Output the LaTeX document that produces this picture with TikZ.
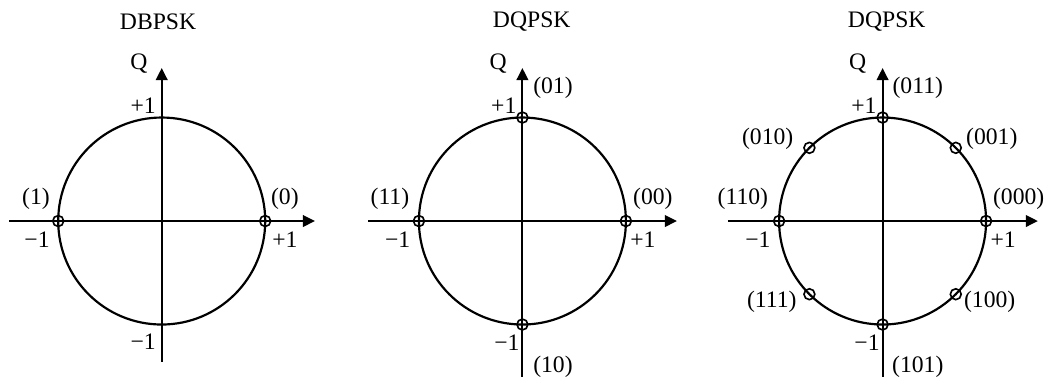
\documentclass[tikz,border=0pt]{standalone}
\usepackage{fontspec}
\setmainfont{Liberation Serif}
\usetikzlibrary{arrows.meta}

\begin{document}
\begin{tikzpicture}[font=\fontsize{13}{15}\selectfont,
    axis/.style={line width=1.05pt, -{Triangle[length=6.6pt,width=6.4pt]}},
    ring/.style={line width=1.2pt},
    pt/.style={circle, draw, line width=0.9pt, inner sep=0pt, minimum size=0.21cm}]
  \useasboundingbox (-3.125,-3.072) rectangle (17.107,4.271);

  % DBPSK
  \begin{scope}
    \node (at) at (-0.07,3.845) {DBPSK};
    \coordinate (aw) at (-2.95,0);
    \coordinate (ae) at (2.96,0);
    \coordinate (as) at (0,-2.72);
    \coordinate (an) at (0,2.956);
    \draw[ring] (0,0) circle (2);
    \draw[axis] (aw) -- (ae);
    \draw[axis] (as) -- (an);
    \node[pt] (a0) at (2,0) {};
    \node[pt] (a1) at (-2,0) {};
    \node (aq) at (-0.44,3.05) {Q};
    \node (atop) at (-0.36,2.22) {+1};
    \node (abot) at (-0.36,-2.34) {−1};
    \node (aleft) at (-2.41,-0.37) {−1};
    \node (aright) at (2.38,-0.37) {+1};
    \node (al1) at (-2.43,0.425) {(1)};
    \node (al0) at (2.38,0.425) {(0)};
  \end{scope}

  % DQPSK, 4 points
  \begin{scope}[shift={(6.97,0)}]
    \node (bt) at (0.18,3.845) {DQPSK};
    \coordinate (bw) at (-2.98,0);
    \coordinate (be) at (2.985,0);
    \coordinate (bs) at (0,-3.01);
    \coordinate (bn) at (0,2.956);
    \draw[ring] (0,0) circle (2);
    \draw[axis] (bw) -- (be);
    \draw[axis] (bs) -- (bn);
    \node[pt] (b00) at (2,0) {};
    \node[pt] (b01) at (0,2) {};
    \node[pt] (b11) at (-2,0) {};
    \node[pt] (b10) at (0,-2) {};
    \node (bq) at (-0.47,3.05) {Q};
    \node (btop) at (-0.36,2.22) {+1};
    \node (bbot) at (-0.30,-2.36) {−1};
    \node (bleft) at (-2.41,-0.37) {−1};
    \node (bright) at (2.33,-0.37) {+1};
    \node (bl01) at (0.59,2.57) {(01)};
    \node (bl11) at (-2.56,0.425) {(11)};
    \node (bl00) at (2.52,0.425) {(00)};
    \node (bl10) at (0.59,-2.82) {(10)};
  \end{scope}

  % DQPSK, 8 points
  \begin{scope}[shift={(13.93,0)}]
    \node (ct) at (0.08,3.845) {DQPSK};
    \coordinate (cw) at (-2.99,0);
    \coordinate (ce) at (3.0,0);
    \coordinate (cs) at (0,-3.01);
    \coordinate (cn) at (0,2.956);
    \draw[ring] (0,0) circle (2);
    \draw[axis] (cw) -- (ce);
    \draw[axis] (cs) -- (cn);
    \node[pt] (c000) at (0:2) {};
    \node[pt] (c001) at (45:2) {};
    \node[pt] (c011) at (90:2) {};
    \node[pt] (c010) at (135:2) {};
    \node[pt] (c110) at (180:2) {};
    \node[pt] (c111) at (225:2) {};
    \node[pt] (c101) at (270:2) {};
    \node[pt] (c100) at (315:2) {};
    \node (cq) at (-0.48,3.05) {Q};
    \node (ctop) at (-0.36,2.22) {+1};
    \node (cbot) at (-0.30,-2.36) {−1};
    \node (cleft) at (-2.41,-0.37) {−1};
    \node (cright) at (2.33,-0.37) {+1};
    \node (cl011) at (0.68,2.57) {(011)};
    \node (cl010) at (-2.22,1.585) {(010)};
    \node (cl001) at (2.11,1.585) {(001)};
    \node (cl110) at (-2.70,0.425) {(110)};
    \node (cl000) at (2.63,0.425) {(000)};
    \node (cl111) at (-2.14,-1.565) {(111)};
    \node (cl100) at (2.07,-1.565) {(100)};
    \node (cl101) at (0.68,-2.82) {(101)};
  \end{scope}
\end{tikzpicture}
\end{document}
